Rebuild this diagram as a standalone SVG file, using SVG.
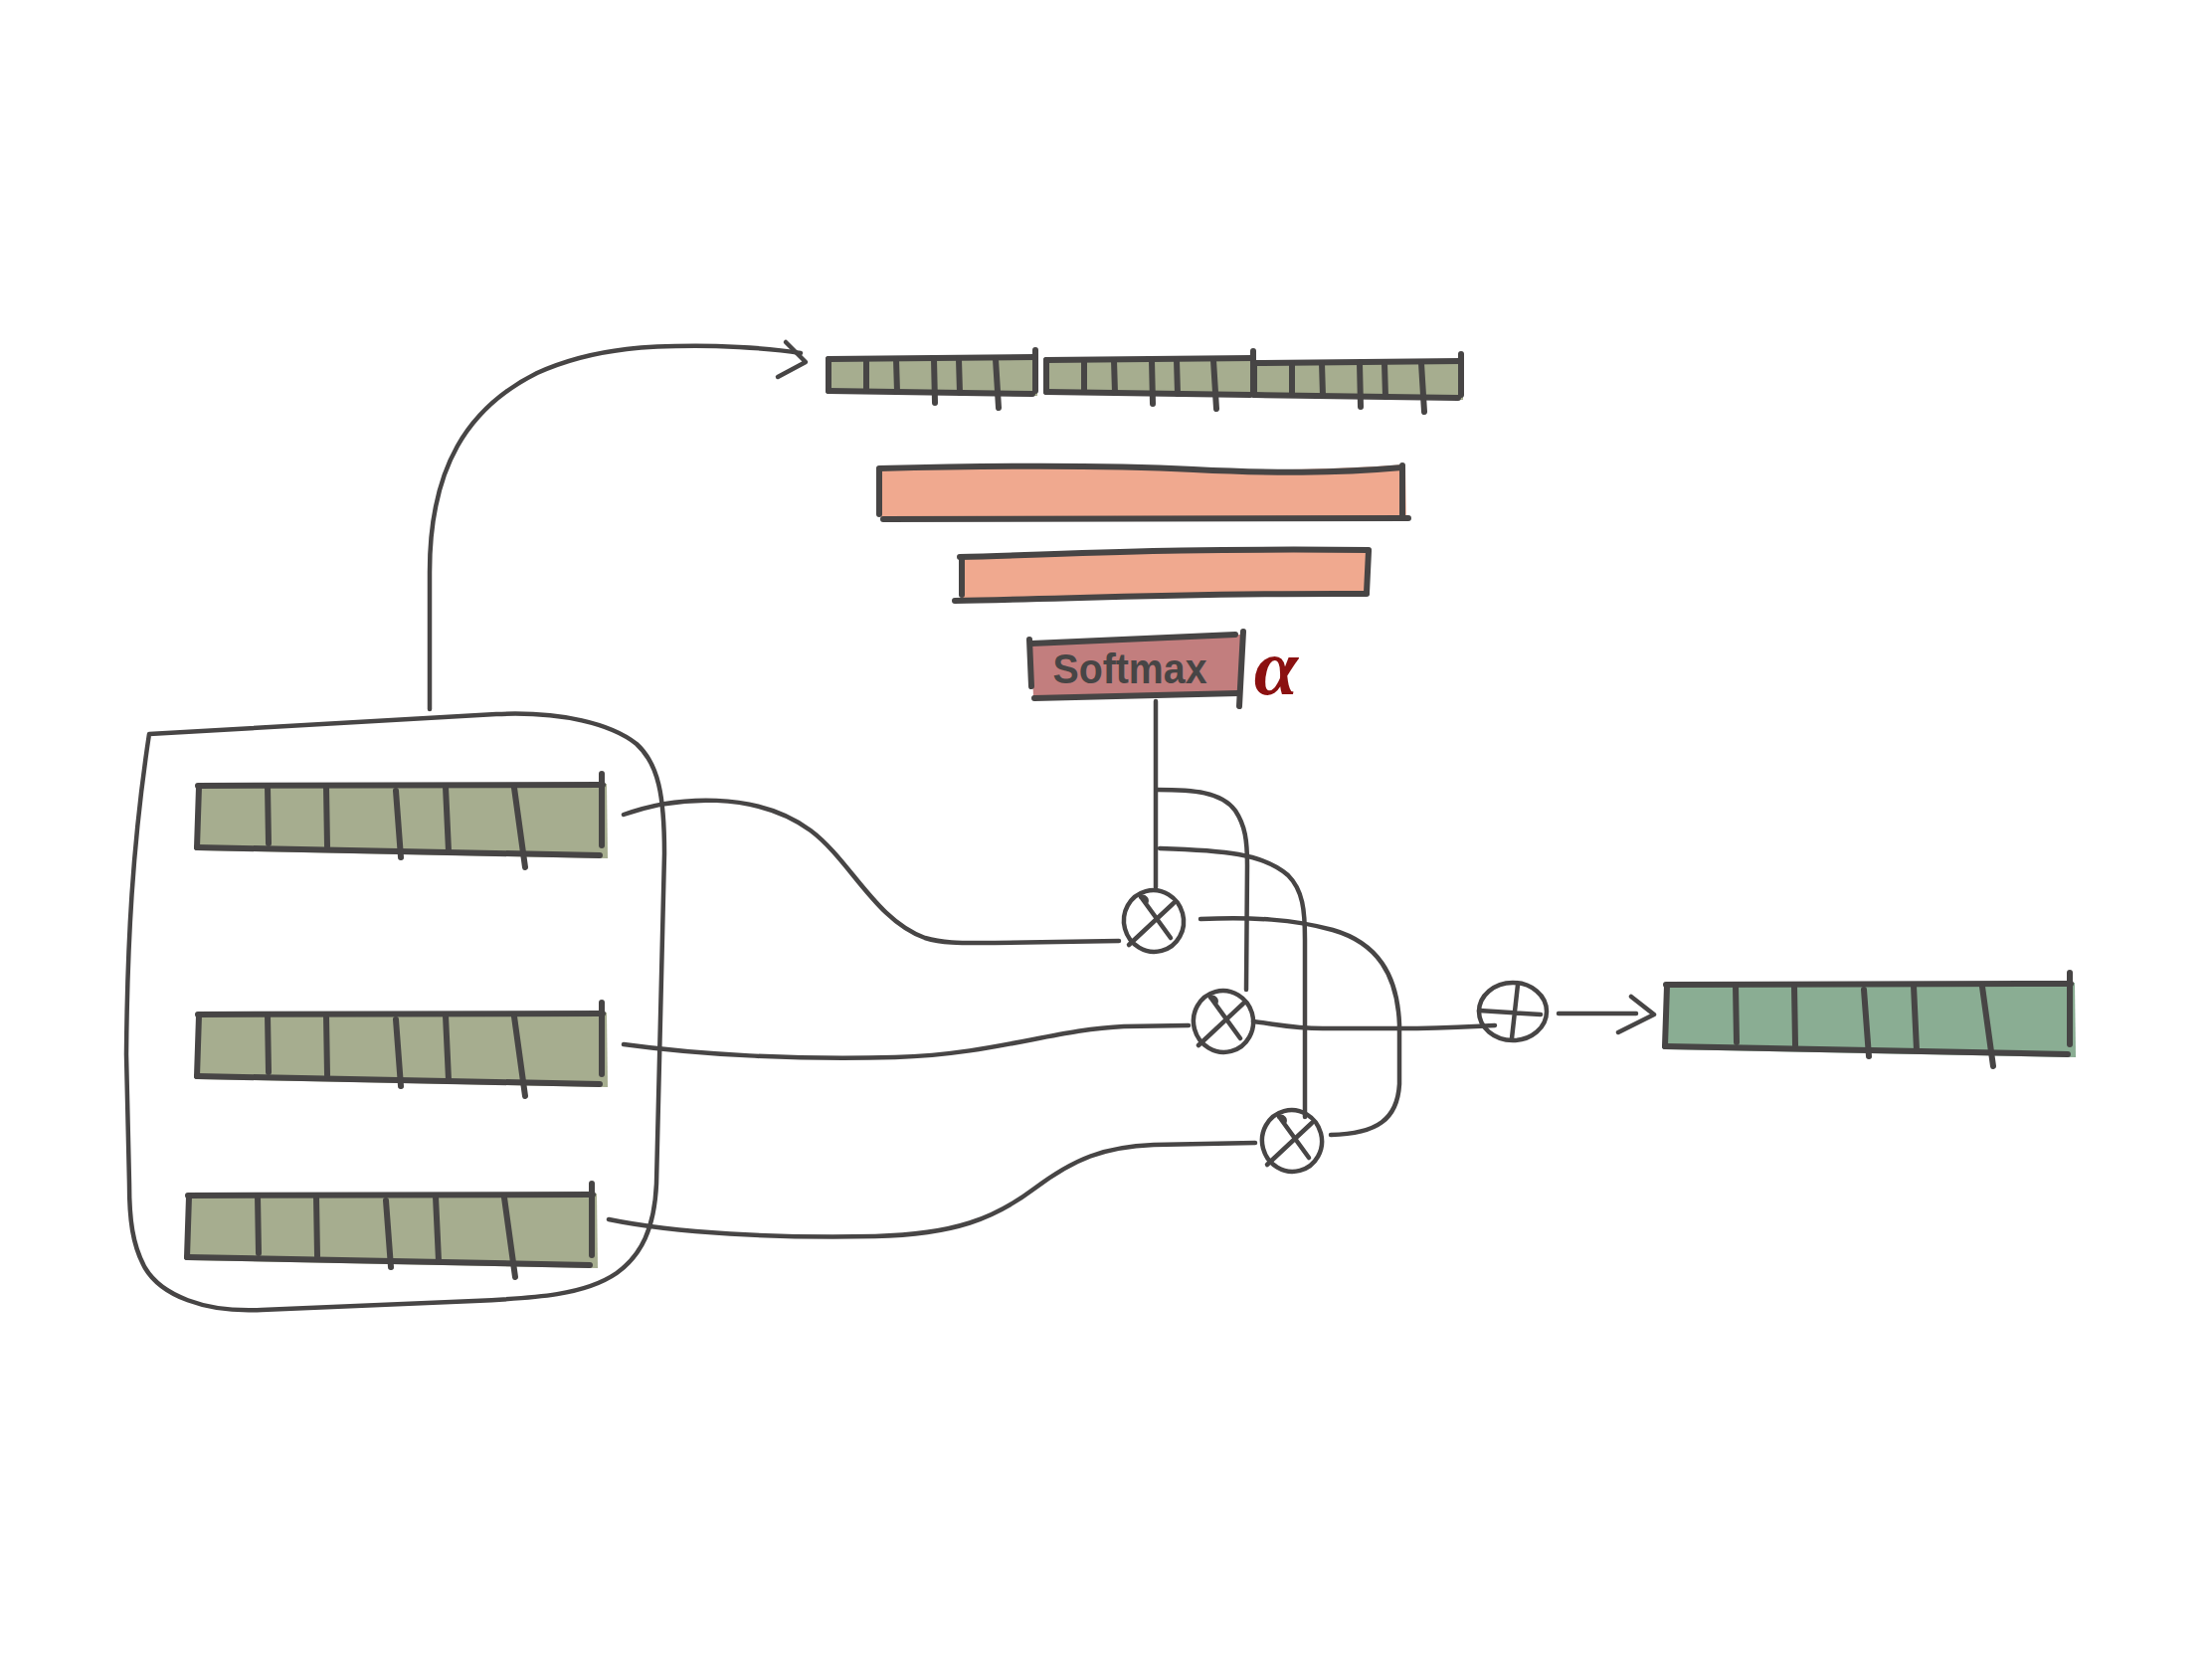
<svg xmlns="http://www.w3.org/2000/svg" xmlns:xlink="http://www.w3.org/1999/xlink" width="2224" height="1668" viewBox="0 0 2224 1668">
<style>
.ln{fill:none;stroke:#474545;stroke-width:4.5;stroke-linecap:round;stroke-linejoin:round}
.bl{fill:none;stroke:#474545;stroke-width:6;stroke-linecap:round;stroke-linejoin:round}
.sal{fill:#F0A98F}
</style>
<defs>
<g id="bar">
<path d="M-1,-1 L411,-2 L412,73 L0,65 Z" stroke="none"/>
<path class="bl" d="M0,0 L407,-1"/>
<path class="bl" d="M1,1 L-1,62"/>
<path class="bl" d="M-1,62 L404,70"/>
<path class="bl" d="M406,-12 L406,60"/>
<path class="bl" d="M70,0 L71,58 M129,1 L130,61 M199,5 L204,72 M249,1 L252,66 M318,2 L329,82"/>
</g>
<g id="seg">
<path d="M0,-1 L210,-3 L210,37 L0,34 Z" stroke="none"/>
<path class="bl" d="M0,0 L208,-2"/>
<path class="bl" d="M0,0 L0,32"/>
<path class="bl" d="M0,32 L205,35"/>
<path class="bl" d="M208,-9 L208,32"/>
<path class="bl" d="M38,0 L38,32 M68,0 L69,33 M106,0 L107,44 M131,0 L132,34 M168,0 L171,49"/>
</g>
<g id="mul">
<ellipse class="ln" cx="0" cy="0" rx="30" ry="31" transform="rotate(-15)"/>
<path class="ln" d="M-25,24 L20,-18 M-12,-23 L17,17 M-13,-24 C-9,-25 -6,-22 -8,-18"/>
</g>
</defs>

<rect width="2224" height="1668" fill="#ffffff"/>

<g id="connectors">
<path class="ln" d="M432,713 L432,575 C432,470 470,410 540,375 C600,348 660,347 720,348 C750,349 780,351 805,355"/>
<path class="ln" d="M790,344 L810,364 L782,379"/>
<path class="ln" d="M627,819 C680,800 760,795 815,835 C855,865 880,925 930,943 C950,949 970,948 1000,948 L1125,946"/>
<path class="ln" d="M627,1050 C700,1060 800,1066 900,1063 C1000,1060 1060,1035 1130,1032 L1195,1031"/>
<path class="ln" d="M612,1226 C680,1240 780,1245 880,1243 C960,1241 1000,1225 1040,1195 C1080,1165 1110,1153 1160,1151 L1262,1149"/>
<path class="ln" d="M1162,705 L1162,892"/>
<path class="ln" d="M1163,794 C1200,794 1228,796 1242,815 C1252,830 1254,845 1254,870 L1253,995"/>
<path class="ln" d="M1166,853 C1230,855 1270,858 1295,880 C1310,895 1312,915 1312,945 L1312,1123"/>
<path class="ln" d="M1207,924 C1260,922 1300,924 1340,935 C1385,948 1405,980 1407,1030 L1407,1090 C1405,1125 1385,1140 1338,1141"/>
<path class="ln" d="M1260,1027 C1285,1030 1300,1034 1330,1034 L1407,1034 C1450,1034 1480,1032 1503,1031"/>
<path class="ln" d="M1567,1019 L1645,1019"/>
<path class="ln" d="M1640,1002 L1663,1020 L1627,1038"/>
</g>

<g id="container">
<path class="ln" d="M150,738 L499,718 C565,715 615,728 640,748 C662,768 668,800 668,858 L660,1190 C658,1235 645,1262 620,1280 C588,1302 540,1305 477,1308 L263,1317 C205,1320 162,1302 146,1275 C133,1252 130,1225 130,1190 L127,1060 C128,950 133,850 150,738 Z"/>
</g>

<g id="input1"><use xlink:href="#bar" href="#bar" transform="translate(199,790)" fill="#A6AD8F"/></g>
<g id="input2"><use xlink:href="#bar" href="#bar" transform="translate(199,1020)" fill="#A6AD8F"/></g>
<g id="input3"><use xlink:href="#bar" href="#bar" transform="translate(189,1202)" fill="#A6AD8F"/></g>

<g id="concat">
<use xlink:href="#seg" href="#seg" transform="translate(833,361)" fill="#A6AD8F"/>
<use xlink:href="#seg" href="#seg" transform="translate(1052,362)" fill="#A6AD8F"/>
<use xlink:href="#seg" href="#seg" transform="translate(1261,365)" fill="#A6AD8F"/>
</g>

<g id="fc1">
<path class="sal" d="M884,469 C1000,466 1120,466 1200,470 C1280,474 1340,472 1413,467 L1414,523 L886,524 Z"/>
<path class="bl" d="M884,471 C1000,468 1120,468 1200,472 C1280,476 1340,476 1410,470"/>
<path class="bl" d="M888,522 L1416,521"/>
<path class="bl" d="M884,472 L884,517"/>
<path class="bl" d="M1410,468 L1410,519"/>
</g>

<g id="fc2">
<path class="sal" d="M967,560 C1080,557 1180,551 1376,553 L1374,598 C1200,597 1080,602 967,604 Z"/>
<path class="bl" d="M965,560 C1080,557 1180,551 1376,553"/>
<path class="bl" d="M960,604 C1080,602 1200,596 1374,597"/>
<path class="bl" d="M967,561 L967,598"/>
<path class="bl" d="M1376,554 L1374,596"/>
</g>

<g id="softmax">
<path d="M1037,646 L1248,638 L1247,699 L1039,702 Z" fill="#C27E7E"/>
<path class="bl" d="M1037,647 L1242,638"/>
<path class="bl" d="M1035,643 L1037,690"/>
<path class="bl" d="M1250,635 L1246,710"/>
<path class="bl" d="M1040,702 L1245,697"/>
<text x="1136" y="687" font-family="Liberation Sans, Arial, sans-serif" font-size="42" font-weight="bold" fill="#474545" text-anchor="middle" textLength="155" lengthAdjust="spacingAndGlyphs">Softmax</text>
</g>

<g id="alpha">
<text x="1283" y="698" font-family="Liberation Serif, Times New Roman, serif" font-style="italic" font-weight="bold" font-size="80" fill="#8B1010" text-anchor="middle">α</text>
</g>

<g id="mul1"><use xlink:href="#mul" href="#mul" transform="translate(1160,926)"/></g>
<g id="mul2"><use xlink:href="#mul" href="#mul" transform="translate(1230,1027)"/></g>
<g id="mul3"><use xlink:href="#mul" href="#mul" transform="translate(1299,1147)"/></g>

<g id="sum">
<ellipse class="ln" cx="1521" cy="1017" rx="34" ry="29"/>
<path class="ln" d="M1487,1016 L1549,1020 M1526,990 L1520,1044"/>
</g>

<g id="output"><use xlink:href="#bar" href="#bar" transform="translate(1675,990)" fill="#8AAD93"/></g>
</svg>
